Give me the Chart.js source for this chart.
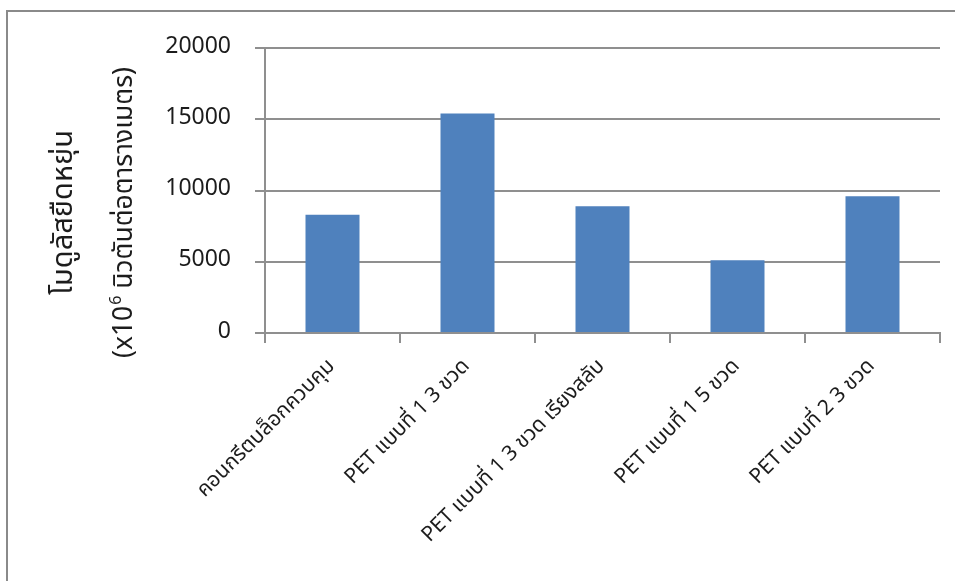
<!DOCTYPE html>
<html lang="th">
<head>
<meta charset="UTF-8">
<title>โมดูลัสยืดหยุ่น</title>
<script src="https://cdn.jsdelivr.net/npm/chart.js@4"></script>
<style>
    html, body { margin: 0; padding: 0; background: #fff; overflow: hidden; }
    canvas { display: block; }
</style>
</head>
<body>
<canvas id="modulusChart" width="955" height="581"></canvas>
<script>
// sample groups and measured modulus (x10^6 N/m^2)
const categories = [
    'คอนกรีตบล็อกควบคุม',
    'PET แบบที่ 1 3 ขวด',
    'PET แบบที่ 1 3 ขวด เรียงสลับ',
    'PET แบบที่ 1 5 ขวด',
    'PET แบบที่ 2 3 ขวด'
];
const modulus = [8300, 15400, 8900, 5100, 9600];
const yTicks = [0, 5000, 10000, 15000, 20000];

const titleLine1 = 'โมดูลัสยืดหยุ่น';
const titlePre = '(x10';
const titleSup = '6';
const titlePost = ' นิวตันต่อตารางเมตร)';

const FONT = "'Noto Sans Thai', 'Noto Sans', Tahoma, sans-serif";
const GRID = '#8f8f8f';
const INK = '#1c1c1c';

// grey frame on the left and top edges
const framePlugin = {
    id: 'frame',
    beforeDraw(chart) {
        const ctx = chart.ctx;
        ctx.save();
        ctx.strokeStyle = '#8a8a8a';
        ctx.lineWidth = 2;
        ctx.beginPath();
        ctx.moveTo(7, chart.height + 2);
        ctx.lineTo(7, 11);
        ctx.lineTo(chart.width + 2, 11);
        ctx.stroke();
        ctx.restore();
    }
};

// two-line rotated y title, with a raised exponent on the second line
const yTitlePlugin = {
    id: 'yTitle',
    afterDraw(chart) {
        const ctx = chart.ctx;
        const area = chart.chartArea;
        const cy = (area.top + area.bottom) / 2 + 22;
        ctx.save();
        ctx.fillStyle = INK;
        ctx.textBaseline = 'middle';

        ctx.save();
        ctx.translate(66, cy);
        ctx.rotate(-Math.PI / 2);
        ctx.font = '29px ' + FONT;
        ctx.textAlign = 'center';
        ctx.fillText(titleLine1, 0, 0);
        ctx.restore();

        ctx.save();
        ctx.translate(127, cy);
        ctx.rotate(-Math.PI / 2);
        ctx.textAlign = 'left';
        const big = '26.5px ' + FONT, small = '16px ' + FONT;
        ctx.font = big;
        const w1 = ctx.measureText(titlePre).width;
        const w3 = ctx.measureText(titlePost).width;
        ctx.font = small;
        const w2 = ctx.measureText(titleSup).width + 1;
        let x = -(w1 + w2 + w3) / 2;
        ctx.font = big;
        ctx.fillText(titlePre, x, 0);
        x += w1;
        ctx.font = small;
        ctx.fillText(titleSup, x + 1, -9);
        x += w2;
        ctx.font = big;
        ctx.fillText(titlePost, x, 0);
        ctx.restore();

        ctx.restore();
    }
};

new Chart(document.getElementById('modulusChart'), {
    type: 'bar',
    data: {
        labels: categories,
        datasets: [{
            data: modulus,
            backgroundColor: '#4f81bd',
            borderWidth: 0,
            categoryPercentage: 1,
            barPercentage: 0.4
        }]
    },
    options: {
        responsive: false,
        animation: false,
        devicePixelRatio: 1,
        layout: { padding: { left: 0, top: 48, right: 15, bottom: 0 } },
        plugins: {
            legend: { display: false },
            tooltip: { enabled: false }
        },
        scales: {
            x: {
                afterFit: s => { s.height = 248; },
                grid: {
                    offset: true,
                    drawOnChartArea: false,
                    drawTicks: true,
                    tickLength: 10,
                    color: GRID,
                    lineWidth: 2
                },
                border: { display: true, color: GRID, width: 2 },
                ticks: {
                    minRotation: 45,
                    maxRotation: 45,
                    autoSkip: false,
                    padding: 12,
                    color: INK,
                    font: { family: FONT, size: 21 }
                }
            },
            y: {
                min: 0,
                max: 20000,
                afterFit: s => { s.width = 265; },
                afterBuildTicks: s => { s.ticks = yTicks.map(v => ({ value: v })); },
                grid: {
                    color: GRID,
                    lineWidth: 2,
                    tickLength: 10
                },
                border: { display: true, color: GRID, width: 2 },
                ticks: {
                    padding: 24,
                    color: INK,
                    font: { family: FONT, size: 23 },
                    callback: v => String(v)
                }
            }
        }
    },
    plugins: [framePlugin, yTitlePlugin]
});
</script>
</body>
</html>
